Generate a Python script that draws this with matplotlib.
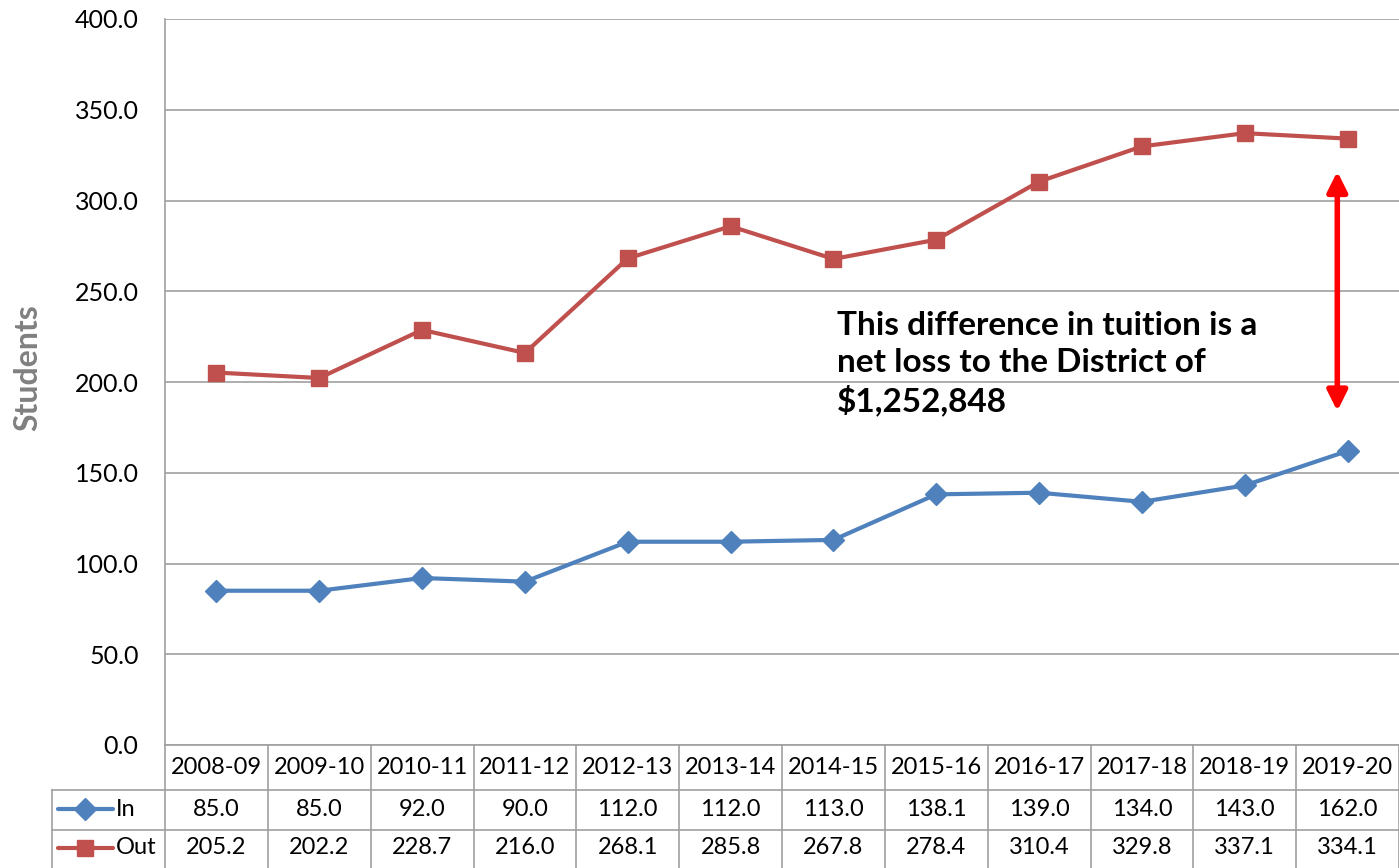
import matplotlib
matplotlib.use("Agg")
import matplotlib.pyplot as plt
from matplotlib.transforms import blended_transform_factory

years = ["2008-09", "2009-10", "2010-11", "2011-12", "2012-13", "2013-14",
         "2014-15", "2015-16", "2016-17", "2017-18", "2018-19", "2019-20"]
in_vals = [85.0, 85.0, 92.0, 90.0, 112.0, 112.0, 113.0, 138.1, 139.0, 134.0, 143.0, 162.0]
out_vals = [205.2, 202.2, 228.7, 216.0, 268.1, 285.8, 267.8, 278.4, 310.4, 329.8, 337.1, 334.1]
yticks = [0, 50, 100, 150, 200, 250, 300, 350, 400]
note = "This difference in tuition is a\nnet loss to the District of\n$1,252,848"

plt.rcParams['font.family'] = ['Lato', 'DejaVu Sans']
W, H = 1399, 868
fig = plt.figure(figsize=(W / 100, H / 100), dpi=100)
ax = fig.add_axes([165 / W, (H - 745) / H, (W - 165) / W, (745 - 19) / H])

blue = "#4F81BD"
red = "#C0504D"
grid = "#A0A0A0"
n = len(years)
x = list(range(n))
fs = 17

ax.plot(x, in_vals, color=blue, lw=3, marker="D", ms=11, zorder=3, solid_capstyle="round")
ax.plot(x, out_vals, color=red, lw=3, marker="s", ms=12, zorder=3, solid_capstyle="round")

ax.set_xlim(-0.5, n - 0.5)
ax.set_ylim(0, 400)
ax.set_yticks(yticks)
ax.set_yticklabels([f"{v:.1f}" for v in yticks], fontsize=18)
ax.set_xticks([])
ax.tick_params(axis="y", length=0, pad=19)
ax.yaxis.grid(True, color=grid, lw=1.2)
ax.set_axisbelow(True)
for s in ["top", "right", "bottom"]:
    ax.spines[s].set_visible(False)
ax.spines["left"].set_color(grid)
ax.spines["left"].set_linewidth(1.2)

ax.set_ylabel("Students", fontsize=23, fontweight="bold", color="#808080")
ax.yaxis.set_label_coords(-0.111, 0.52)
ax.yaxis.label.set_va("center")

# annotation
ax.annotate("", xy=(10.9, 316), xytext=(10.9, 184),
            arrowprops=dict(arrowstyle="<|-|>", color="red", lw=4,
                            mutation_scale=30, shrinkA=0, shrinkB=0))
ax.text(6.03, 210, note, fontsize=24, fontweight="bold", color="black",
        va="center", ha="left", linespacing=1.32)

# data table
px = lambda p: p / (745 - 19)  # pixels to axes fraction
tr = blended_transform_factory(ax.transData, ax.transAxes)
row_edges = [0, -px(45), -px(85), -px(123)]
row_centers = [-px(22), -px(64), -px(103)]
lkw = dict(color=grid, lw=1.2, clip_on=False, transform=tr)
ax.plot([-0.5, n - 0.5], [row_edges[0]] * 2, **lkw)
for yv in row_edges[1:3]:
    ax.plot([-0.5 - 113 / 102.83, n - 0.5], [yv] * 2, **lkw)
for i in range(n + 1):
    ax.plot([i - 0.5, i - 0.5], [row_edges[0], row_edges[3]], **lkw)
ax.plot([-0.5 - 113 / 102.83] * 2, [row_edges[1], row_edges[3]], **lkw)

for i in range(n):
    ax.text(i, row_centers[0], years[i], transform=tr, ha="center", va="center", fontsize=fs)
    ax.text(i, row_centers[1], f"{in_vals[i]:.1f}", transform=tr, ha="center", va="center", fontsize=fs)
    ax.text(i, row_centers[2], f"{out_vals[i]:.1f}", transform=tr, ha="center", va="center", fontsize=fs)

# legend keys in table
ka, kb = -0.5 - 107 / 102.83, -0.5 - 52 / 102.83
km = (ka + kb) / 2
ax.plot([ka, kb], [row_centers[1]] * 2, color=blue, lw=3, transform=tr, clip_on=False, solid_capstyle="round")
ax.plot([km], [row_centers[1]], color=blue, marker="D", ms=11, transform=tr, clip_on=False)
ax.plot([ka, kb], [row_centers[2]] * 2, color=red, lw=3, transform=tr, clip_on=False, solid_capstyle="round")
ax.plot([km], [row_centers[2]], color=red, marker="s", ms=12, transform=tr, clip_on=False)
ax.text(kb + 3 / 102.83, row_centers[1], "In", transform=tr, ha="left", va="center", fontsize=fs)
ax.text(kb + 3 / 102.83, row_centers[2], "Out", transform=tr, ha="left", va="center", fontsize=fs)

fig.savefig("out.png", dpi=100)
